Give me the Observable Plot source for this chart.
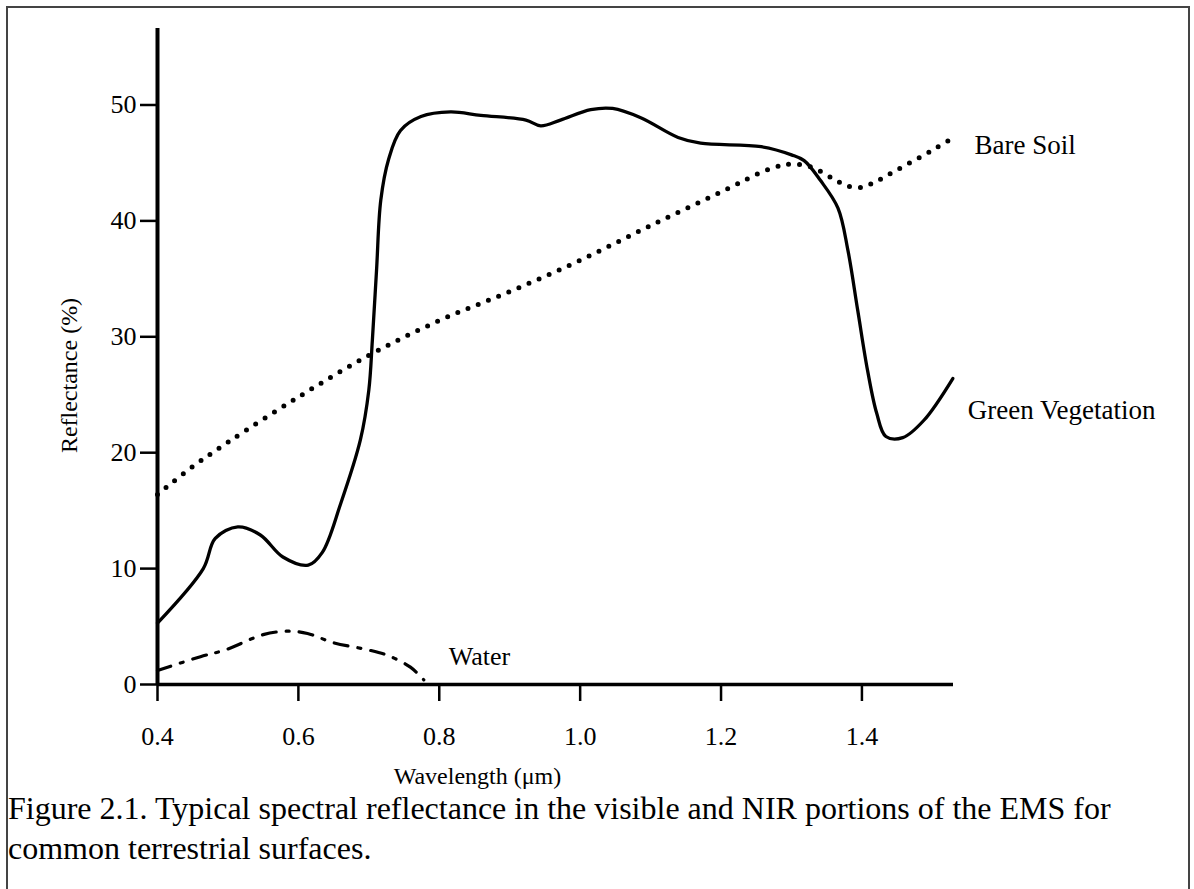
<!DOCTYPE html>
<html><head><meta charset="utf-8">
<script src="https://cdn.jsdelivr.net/npm/d3@7"></script>
<script src="https://cdn.jsdelivr.net/npm/@observablehq/plot@0.6"></script>
<style>
html,body{margin:0;padding:0;background:#fff;}
#wrap{position:relative;width:1194px;height:889px;overflow:hidden;background:#fff;font-family:"Liberation Serif","Times New Roman",serif;color:#000;}
#frame{position:absolute;left:6px;top:6px;width:1184px;height:900px;border:2px solid #444;box-sizing:border-box;pointer-events:none;}
#chart{position:absolute;left:0;top:0;}
#caption{position:absolute;left:8px;top:788px;font-size:32px;line-height:40px;white-space:nowrap;}
</style></head>
<body>
<div id="wrap"><div id="chart"></div><div id="caption"></div><div id="frame"></div></div>
<script>
// Green vegetation (solid)
const vegWavelength = [0.40,0.465,0.482,0.514,0.546,0.578,0.614,0.634,0.66,0.688,0.70,0.705,0.711,0.717,0.728,0.745,0.774,0.816,0.859,0.923,0.944,0.972,1.015,1.046,1.086,1.139,1.171,1.257,1.30,1.318,1.341,1.366,1.380,1.394,1.408,1.421,1.434,1.458,1.488,1.529];
const vegReflectance = [5.3,10.0,12.6,13.6,12.9,11.0,10.3,11.4,15.6,21.1,25.4,29.7,35.8,41.8,45.3,47.8,49.0,49.4,49.1,48.7,48.2,48.7,49.6,49.7,48.9,47.2,46.7,46.4,45.7,45.2,43.5,41.1,37.5,32.3,27.1,23.4,21.4,21.3,22.8,26.4];
// Bare soil (dotted)
const soilWavelength = [0.40,0.45,0.50,0.60,0.70,0.80,0.90,1.00,1.10,1.20,1.27,1.30,1.33,1.36,1.38,1.40,1.42,1.45,1.50,1.53];
const soilReflectance = [16.4,18.8,20.9,24.8,28.4,31.4,33.9,36.6,39.6,42.5,44.5,44.9,44.6,43.6,43.0,42.9,43.4,44.4,46.1,47.2];
// Water (dash-dot)
const waterWavelength = [0.40,0.461,0.497,0.55,0.585,0.613,0.65,0.698,0.727,0.759,0.778];
const waterReflectance = [1.2,2.4,3.0,4.3,4.6,4.4,3.6,3.0,2.5,1.5,0.4];

const xTicks = [0.4,0.6,0.8,1.0,1.2,1.4];
const yTicks = [0,10,20,30,40,50];
const seriesNames = ["Green Vegetation","Bare Soil","Water"];
const xTitle = "Wavelength (\u03bcm)";
const yTitle = "Reflectance (%)";
const captionLines = ["Figure 2.1. Typical spectral reflectance in the visible and NIR portions of the EMS for","common terrestrial surfaces."];

const veg = vegWavelength.map((w,i)=>({w, r: vegReflectance[i]}));
const soil = soilWavelength.map((w,i)=>({w, r: soilReflectance[i]}));
const water = waterWavelength.map((w,i)=>({w, r: waterReflectance[i]}));

const chart = Plot.plot({
  width:1194, height:770,
  marginLeft:157, marginRight:241, marginTop:28, marginBottom:86,
  x:{domain:[0.4,1.53]},
  y:{domain:[0,56.6]},
  style:{fontFamily:"'Liberation Serif', serif", fontSize:"26px", color:"#000", background:"transparent", overflow:"visible"},
  marks:[
    Plot.axisX({ticks:xTicks, tickFormat:d=>d.toFixed(1), tickSize:17, tickPadding:25, strokeWidth:2.5, label:null, fontSize:26}),
    Plot.axisY({ticks:yTicks, tickSize:17, tickPadding:4, strokeWidth:2.5, label:null, fontSize:26}),
    Plot.ruleX([0.4], {strokeWidth:4}),
    Plot.ruleY([0], {strokeWidth:3.5}),
    Plot.line(water, {x:"w", y:"r", curve:"catmull-rom", strokeWidth:3.2, strokeDasharray:"14,10,3,10"}),
    Plot.line(soil, {x:"w", y:"r", curve:"catmull-rom", strokeWidth:5, strokeDasharray:"0,11", strokeLinecap:"round"}),
    Plot.line(veg, {x:"w", y:"r", curve:"catmull-rom", strokeWidth:3.3}),
    Plot.text([veg[veg.length-1]], {x:"w", y:"r", text:()=>seriesNames[0], textAnchor:"start", dx:15, dy:32, fontSize:27}),
    Plot.text([soil[soil.length-1]], {x:"w", y:"r", text:()=>seriesNames[1], textAnchor:"start", dx:21, dy:8, fontSize:27}),
    Plot.text([water[water.length-1]], {x:"w", y:"r", text:()=>seriesNames[2], textAnchor:"start", dx:25, dy:-23, fontSize:26}),
    Plot.text([xTitle], {frameAnchor:"bottom", textAnchor:"middle", dx:-78, dy:99, fontSize:24}),
    Plot.text([yTitle], {frameAnchor:"left", textAnchor:"middle", rotate:-90, dx:-88, dy:19, fontSize:24})
  ]
});
document.getElementById("chart").appendChild(chart);
const cap = document.getElementById("caption");
captionLines.forEach((t,i)=>{ if(i) cap.appendChild(document.createElement("br")); cap.appendChild(document.createTextNode(t)); });
</script>
</body></html>
